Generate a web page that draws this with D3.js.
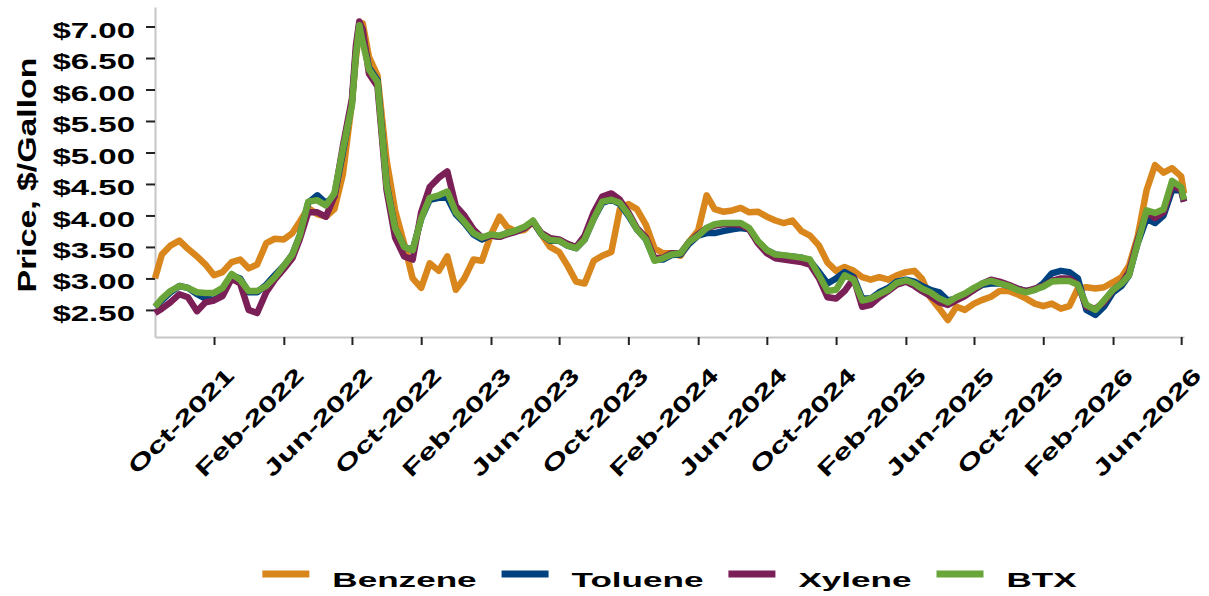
<!DOCTYPE html>
<html lang="en">
<head>
<meta charset="UTF-8">
<title>BTX prices</title>
<script src="https://d3js.org/d3.v7.min.js"></script>
<style>
  body { margin: 0; background: #fff; }
  text { font-family: "Liberation Sans", Arial, sans-serif; font-weight: bold; fill: #000; }
</style>
</head>
<body>
<script>
// semi-monthly readings
var dates = [
  "2021-06-19","2021-07-01","2021-07-16","2021-08-01","2021-08-16","2021-09-01","2021-09-16",
  "2021-10-01","2021-10-16","2021-11-01","2021-11-16","2021-12-01","2021-12-16",
  "2022-01-01","2022-01-16","2022-02-01","2022-02-16","2022-03-01","2022-03-16",
  "2022-04-01","2022-04-16","2022-05-01","2022-05-16","2022-06-01","2022-06-08","2022-06-14","2022-06-20",
  "2022-07-01","2022-07-16","2022-08-01","2022-08-16","2022-09-01","2022-09-16",
  "2022-10-01","2022-10-16","2022-11-01","2022-11-16","2022-12-01","2022-12-16",
  "2023-01-01","2023-01-16","2023-02-01","2023-02-16","2023-03-01","2023-03-16",
  "2023-04-01","2023-04-16","2023-05-01","2023-05-16","2023-06-01","2023-06-16",
  "2023-07-01","2023-07-16","2023-08-01","2023-08-16","2023-09-01","2023-09-16",
  "2023-10-01","2023-10-16","2023-11-01","2023-11-16","2023-12-01","2023-12-16",
  "2024-01-01","2024-01-16","2024-02-01","2024-02-16","2024-03-01","2024-03-16",
  "2024-04-01","2024-04-16","2024-05-01","2024-05-16","2024-06-01","2024-06-16",
  "2024-07-01","2024-07-16","2024-08-01","2024-08-16","2024-09-01","2024-09-16",
  "2024-10-01","2024-10-16","2024-11-01","2024-11-16","2024-12-01","2024-12-16",
  "2025-01-01","2025-01-16","2025-02-01","2025-02-16","2025-03-01","2025-03-16",
  "2025-04-01","2025-04-16","2025-05-01","2025-05-16","2025-06-01","2025-06-16",
  "2025-07-01","2025-07-16","2025-08-01","2025-08-16","2025-09-01","2025-09-16",
  "2025-10-01","2025-10-16","2025-11-01","2025-11-16","2025-12-01","2025-12-16",
  "2026-01-01","2026-01-16","2026-02-01","2026-02-16","2026-03-01","2026-03-16",
  "2026-04-01","2026-04-16","2026-05-01","2026-05-16","2026-06-01","2026-06-06"
];
var benzene = [
  3.00,3.38,3.52,3.60,3.47,3.35,3.22,
  3.05,3.10,3.26,3.30,3.16,3.22,
  3.56,3.63,3.62,3.72,3.90,4.12,
  4.02,3.98,4.10,4.65,5.80,6.50,6.95,7.05,
  6.52,6.22,4.88,4.08,3.55,3.00,
  2.85,3.24,3.12,3.35,2.82,3.00,
  3.30,3.28,3.70,3.98,3.82,3.75,
  3.77,3.90,3.70,3.50,3.42,3.20,
  2.95,2.92,3.28,3.36,3.42,4.10,
  4.18,4.10,3.85,3.48,3.40,3.40,
  3.36,3.58,3.76,4.32,4.10,4.06,
  4.08,4.12,4.05,4.06,3.98,3.92,
  3.88,3.92,3.75,3.68,3.52,3.25,
  3.12,3.18,3.12,3.02,2.98,3.02,
  2.98,3.05,3.10,3.12,3.00,2.70,
  2.52,2.34,2.55,2.50,2.60,2.66,
  2.71,2.80,2.80,2.75,2.68,2.60,
  2.56,2.60,2.52,2.56,2.84,2.86,
  2.84,2.86,2.94,3.02,3.20,3.65,
  4.40,4.80,4.68,4.75,4.62,4.35
];
var toluene = [
  2.55,2.65,2.78,2.88,2.85,2.75,2.68,
  2.66,2.75,3.05,3.00,2.78,2.78,
  2.90,3.05,3.20,3.38,3.68,4.20,
  4.32,4.20,4.30,5.00,5.80,6.60,7.05,6.85,
  6.35,6.15,4.50,3.80,3.50,3.45,
  3.95,4.25,4.28,4.28,4.02,3.88,
  3.70,3.62,3.68,3.66,3.72,3.74,
  3.80,3.90,3.70,3.60,3.60,3.52,
  3.48,3.62,3.95,4.20,4.25,4.18,
  4.00,3.78,3.62,3.30,3.30,3.37,
  3.38,3.55,3.68,3.72,3.72,3.75,
  3.78,3.80,3.78,3.58,3.45,3.38,
  3.36,3.35,3.33,3.28,3.10,2.92,
  3.00,3.10,3.02,2.68,2.68,2.78,
  2.85,2.95,2.98,2.95,2.88,2.82,
  2.78,2.65,2.68,2.75,2.82,2.90,
  2.92,2.92,2.88,2.84,2.80,2.82,
  2.92,3.08,3.12,3.10,3.00,2.50,
  2.42,2.55,2.78,2.88,3.05,3.55,
  3.95,3.88,4.00,4.40,4.40,4.22
];
var xylene = [
  2.45,2.52,2.62,2.75,2.70,2.48,2.62,
  2.65,2.72,3.00,2.92,2.50,2.45,
  2.78,2.98,3.15,3.32,3.62,4.05,
  4.05,3.98,4.30,5.10,5.85,6.70,7.08,6.95,
  6.25,6.05,4.40,3.65,3.35,3.30,
  4.05,4.45,4.60,4.70,4.15,4.00,
  3.78,3.65,3.68,3.66,3.70,3.74,
  3.80,3.90,3.72,3.64,3.62,3.55,
  3.50,3.68,4.05,4.30,4.35,4.25,
  4.05,3.80,3.65,3.32,3.33,3.40,
  3.40,3.58,3.70,3.80,3.84,3.86,
  3.86,3.85,3.78,3.56,3.40,3.32,
  3.30,3.28,3.26,3.22,3.00,2.70,
  2.68,2.80,3.00,2.55,2.58,2.70,
  2.80,2.90,2.95,2.88,2.80,2.72,
  2.62,2.58,2.65,2.72,2.82,2.92,
  2.98,2.95,2.90,2.84,2.80,2.84,
  2.88,2.96,3.00,3.00,2.90,2.55,
  2.52,2.62,2.82,2.92,3.10,3.60,
  4.05,3.96,4.05,4.48,4.40,4.22
];
var btx = [
  2.55,2.68,2.80,2.88,2.85,2.78,2.77,
  2.77,2.85,3.07,2.98,2.80,2.80,
  2.88,3.02,3.20,3.38,3.68,4.22,
  4.24,4.16,4.35,5.05,5.75,6.55,7.02,6.75,
  6.32,6.12,4.48,3.80,3.50,3.45,
  3.95,4.28,4.32,4.38,4.05,3.90,
  3.72,3.65,3.70,3.68,3.72,3.76,
  3.82,3.92,3.70,3.61,3.60,3.52,
  3.48,3.62,3.95,4.22,4.25,4.20,
  4.02,3.78,3.62,3.28,3.32,3.38,
  3.40,3.58,3.68,3.80,3.86,3.88,
  3.88,3.88,3.80,3.60,3.45,3.38,
  3.37,3.35,3.33,3.30,3.05,2.80,
  2.82,3.05,2.98,2.65,2.68,2.75,
  2.82,2.93,2.97,2.92,2.84,2.78,
  2.68,2.62,2.70,2.76,2.85,2.92,
  2.96,2.92,2.88,2.82,2.78,2.82,
  2.87,2.95,2.96,2.96,2.90,2.58,
  2.50,2.65,2.82,2.92,3.05,3.55,
  4.08,4.04,4.10,4.55,4.45,4.25
];
var seriesNames = ["Benzene", "Toluene", "Xylene", "BTX"];
var seriesColors = ["#d9861c", "#00427f", "#7b1f57", "#6aa53a"];
var yTicks = [2.5, 3.0, 3.5, 4.0, 4.5, 5.0, 5.5, 6.0, 6.5, 7.0];
var xTickLabels = ["Oct-2021","Feb-2022","Jun-2022","Oct-2022","Feb-2023","Jun-2023","Oct-2023",
  "Feb-2024","Jun-2024","Oct-2024","Feb-2025","Jun-2025","Oct-2025","Feb-2026","Jun-2026"];

(function () {
  var W = 1209, H = 596;
  var left = 155, right = 1184, top = 7, bottom = 337;
  var parse = d3.timeParse("%Y-%m-%d");
  var parseTick = d3.timeParse("%b-%Y");

  var svg = d3.select("body").append("svg").attr("width", W).attr("height", H);

  // widen glyphs along the baseline, the source chart has stretched text
  function stretch(sel, k) {
    sel.each(function () {
      var len = this.getComputedTextLength();
      d3.select(this).attr("textLength", len * k).attr("lengthAdjust", "spacingAndGlyphs");
    });
  }

  var x = d3.scaleTime()
    .domain([parse(dates[0]), parse(dates[dates.length - 1])])
    .range([left, right]);
  var y = d3.scaleLinear().domain([2.07, 7.31]).range([bottom, top]);

  // axes
  var yAxis = svg.append("g")
    .attr("transform", "translate(" + left + ",0)")
    .call(d3.axisLeft(y).tickValues(yTicks).tickFormat(d3.format("$.2f"))
      .tickSize(9).tickSizeOuter(0).tickPadding(11));
  var xAxis = svg.append("g")
    .attr("transform", "translate(0," + bottom + ")")
    .call(d3.axisBottom(x).tickValues(xTickLabels.map(parseTick))
      .tickFormat(d3.timeFormat("%b-%Y")).tickSize(8).tickSizeOuter(0));

  svg.selectAll("g").attr("font-family", null).attr("font-size", null);

  [yAxis, xAxis].forEach(function (g) {
    g.select(".domain").attr("stroke", "#c6c6c6").attr("stroke-width", 2);
    g.selectAll(".tick line").attr("stroke", "#222").attr("stroke-width", 2);
  });

  yAxis.selectAll("text")
    .attr("font-size", 22).attr("dy", "0.48em").attr("fill", "#000");
  stretch(yAxis.selectAll("text"), 1.5);

  xAxis.selectAll("text")
    .attr("font-size", 22).attr("fill", "#000")
    .attr("y", 0).attr("dy", 0)
    .attr("text-anchor", "end")
    .attr("transform", "translate(21,40) rotate(-45)");
  stretch(xAxis.selectAll("text"), 1.5);

  // y title
  var title = svg.append("text")
    .attr("transform", "translate(36," + ((top + bottom) / 2 + 3) + ") rotate(-90)")
    .attr("text-anchor", "middle")
    .attr("font-size", 26)
    .text("Price, $/Gallon");
  stretch(title, 1.3);

  // lines
  var values = [benzene, toluene, xylene, btx];
  var line = d3.line()
    .x(function (d) { return x(d.date); })
    .y(function (d) { return y(d.v); });

  values.forEach(function (vals, i) {
    var pts = dates.map(function (s, j) { return { date: parse(s), v: vals[j] }; });
    svg.append("path")
      .datum(pts)
      .attr("fill", "none")
      .attr("stroke", seriesColors[i])
      .attr("stroke-width", 6.5)
      .attr("stroke-linejoin", "round")
      .attr("d", line);
  });

  // legend
  var legend = svg.append("g");
  var cx = 0;
  seriesNames.forEach(function (name, i) {
    var item = legend.append("g").attr("transform", "translate(" + cx + ",0)");
    item.append("line")
      .attr("x1", 0).attr("x2", 47).attr("y1", 574).attr("y2", 574)
      .attr("stroke", seriesColors[i]).attr("stroke-width", 7);
    var t = item.append("text")
      .attr("x", 70).attr("y", 587)
      .attr("font-size", 21)
      .text(name);
    stretch(t, 1.67);
    cx += 70 + t.node().getComputedTextLength() + 25;
  });
  var lw = cx - 25;
  legend.attr("transform", "translate(" + ((left + right) / 2 - lw / 2) + ",0)");
})();
</script>
</body>
</html>
